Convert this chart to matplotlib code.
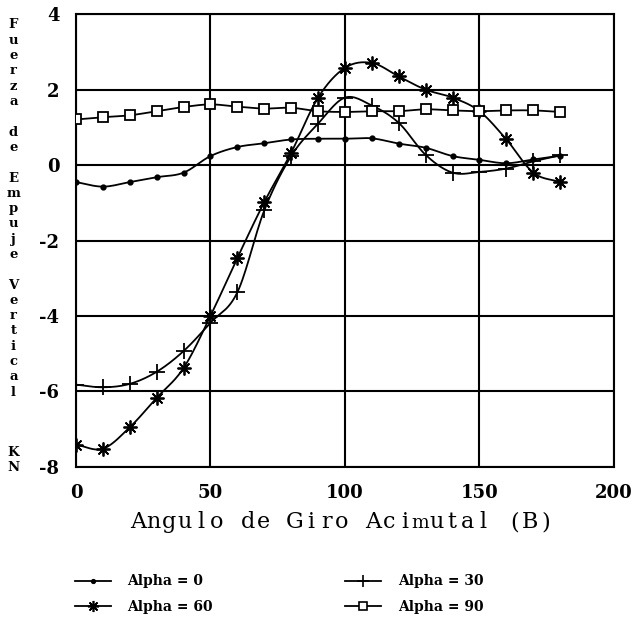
import numpy as np
import matplotlib.pyplot as plt
from matplotlib.lines import Line2D

plt.rcParams["axes.unicode_minus"] = False

angle = [0, 10, 20, 30, 40, 50, 60, 70, 80, 90, 100, 110, 120, 130, 140, 150, 160, 170, 180]

alpha_0 = [-0.45, -0.57, -0.45, -0.32, -0.20, 0.24, 0.48, 0.58, 0.68, 0.70,
           0.70, 0.71, 0.57, 0.46, 0.24, 0.14, 0.05, 0.15, 0.25]
alpha_30 = [-5.82, -5.89, -5.80, -5.48, -4.93, -4.18, -3.37, -1.20, 0.24, 1.10,
            1.79, 1.58, 1.12, 0.27, -0.20, -0.18, -0.09, 0.10, 0.26]
alpha_60 = [-7.41, -7.52, -6.95, -6.17, -5.38, -4.00, -2.46, -0.98, 0.33, 1.79,
            2.58, 2.71, 2.35, 2.00, 1.79, 1.43, 0.68, -0.20, -0.45]
alpha_90 = [1.21, 1.27, 1.32, 1.43, 1.54, 1.61, 1.55, 1.50, 1.52, 1.43,
            1.41, 1.43, 1.43, 1.48, 1.45, 1.43, 1.45, 1.45, 1.41]

x_ticks = [0, 50, 100, 150, 200]
y_ticks = [-8, -6, -4, -2, 0, 2, 4]

xlabel_text = "Angulo de Giro Acimutal (B)"
ylabel_lines = ["F", "u", "e", "r", "z", "a", "", "d", "e", "", "E", "m", "p", "u", "j", "e", "",
                "V", "e", "r", "t", "i", "c", "a", "l"]
unit_lines = ["K", "N"]


def smooth(x, y, n=16):
    # Catmull-Rom curve through the points, only for drawing the line
    x = np.asarray(x, float)
    y = np.asarray(y, float)
    px = np.concatenate([[2 * x[0] - x[1]], x, [2 * x[-1] - x[-2]]])
    py = np.concatenate([[2 * y[0] - y[1]], y, [2 * y[-1] - y[-2]]])
    t = np.linspace(0, 1, n, endpoint=False)
    xs, ys = [], []
    for i in range(1, len(px) - 2):
        for p, out in ((px, xs), (py, ys)):
            p0, p1, p2, p3 = p[i - 1], p[i], p[i + 1], p[i + 2]
            out.extend(0.5 * ((2 * p1) + (-p0 + p2) * t
                              + (2 * p0 - 5 * p1 + 4 * p2 - p3) * t ** 2
                              + (-p0 + 3 * p1 - 3 * p2 + p3) * t ** 3))
    xs.append(x[-1])
    ys.append(y[-1])
    return xs, ys


fig = plt.figure(figsize=(6.33, 6.2), dpi=100)
ax = fig.add_axes([0.12, 0.247, 0.85, 0.73])

series = [
    (alpha_0, "o", 3.2, "black", "Alpha = 0"),
    (alpha_60, (8, 2, 0), 10, "none", "Alpha = 60"),
    (alpha_30, "+", 11, "none", "Alpha = 30"),
    (alpha_90, "s", 7.5, "white", "Alpha = 90"),
]

handles = []
for vals, mk, ms, fc, lab in series:
    sx, sy = smooth(angle, vals)
    ax.plot(sx, sy, color="black", lw=1.3, zorder=3)
    ax.plot(angle, vals, ls="none", marker=mk, ms=ms, mfc=fc, mec="black",
            mew=1.3, zorder=4)
    handles.append(Line2D([], [], color="black", lw=1.3, marker=mk, ms=ms * 0.8,
                          mfc=fc, mec="black", mew=1.2, label=lab))

ax.set_xlim(0, 200)
ax.set_ylim(-8, 4)
ax.set_xticks(x_ticks)
ax.set_yticks(y_ticks)
ax.grid(True, color="black", lw=1.5)
ax.set_axisbelow(True)
for s in ax.spines.values():
    s.set_linewidth(1.5)
ax.tick_params(length=0, pad=12)
for lbl in ax.get_xticklabels() + ax.get_yticklabels():
    lbl.set_fontfamily("DejaVu Serif")
    lbl.set_fontweight("bold")
    lbl.set_fontsize(13)

# x label spaced like a typewriter font (wide letters set a bit narrower)
char_w = 15.7
x0 = 342 - char_w * (len(xlabel_text) - 1) / 2
for i, ch in enumerate(xlabel_text):
    fs = 13.5 if ch in "mM" else 16
    fig.text((x0 + i * char_w) / 633, 1 - 528 / 620, ch, ha="center", va="baseline",
             family="DejaVu Serif", fontsize=fs)

# vertical stacked y label, one letter per line
for i, ch in enumerate(ylabel_lines):
    fig.text(13.5 / 633, 1 - (25 + i * 15.3) / 620, ch, ha="center", va="center",
             family="DejaVu Serif", fontweight="bold", fontsize=9.5)
for i, ch in enumerate(unit_lines):
    fig.text(13.5 / 633, 1 - (452 + i * 15.3) / 620, ch, ha="center", va="center",
             family="DejaVu Serif", fontweight="bold", fontsize=9.5)

leg = fig.legend(handles=handles, ncol=2, loc="upper left",
                 bbox_to_anchor=(62 / 633, 1 - 562 / 620), frameon=False,
                 prop={"family": "DejaVu Serif", "weight": "bold", "size": 10},
                 handlelength=2.6, handletextpad=1.2, columnspacing=9.5,
                 labelspacing=0.8)

fig.savefig("out.png", dpi=100)
